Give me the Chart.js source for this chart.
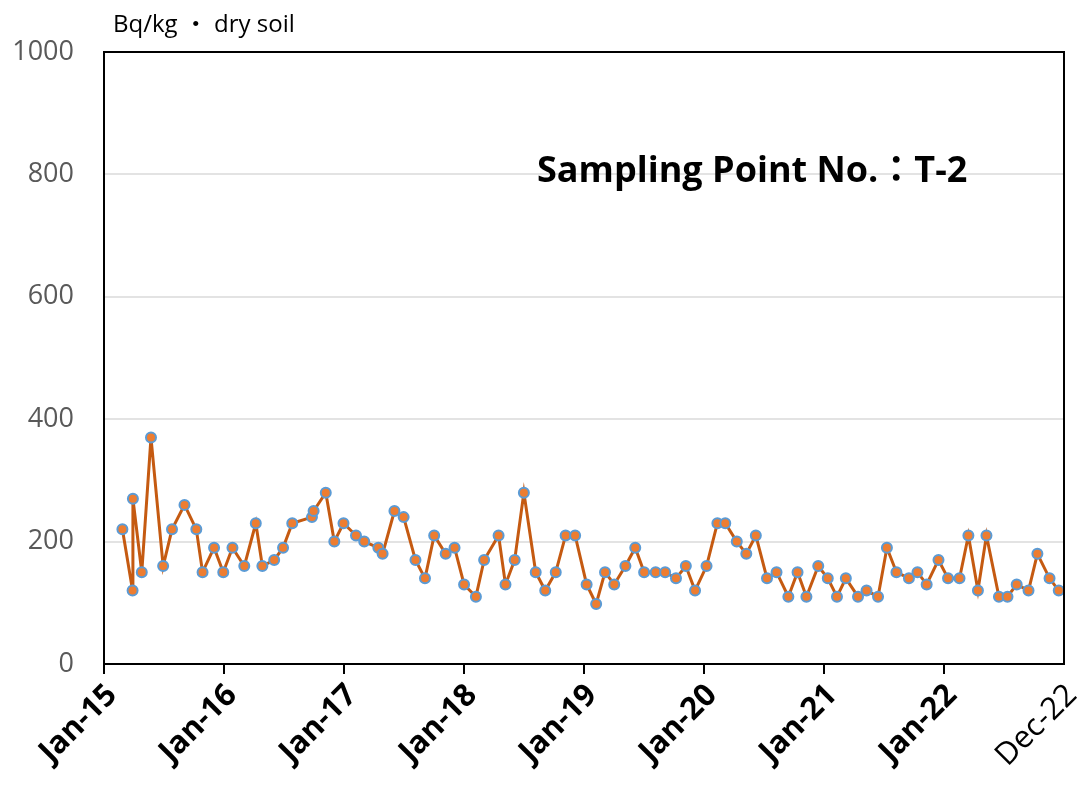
<!DOCTYPE html>
<html>
<head>
<meta charset="utf-8">
<script src="https://cdn.jsdelivr.net/npm/chart.js@4.4.1/dist/chart.umd.min.js"></script>
<style>
  html, body { margin: 0; padding: 0; background: #fff; }
  #wrap { width: 1081px; height: 785px; position: relative; }
</style>
</head>
<body>
<div id="wrap"><canvas id="chart"></canvas></div>
<script>
const sampleDates = [
  '2015-02-26', '2015-03-29', '2015-03-30', '2015-04-26', '2015-05-24', '2015-06-30', '2015-07-27', '2015-09-03',
  '2015-10-09', '2015-10-28', '2015-12-02', '2015-12-30', '2016-01-27', '2016-03-03', '2016-04-07', '2016-04-27',
  '2016-06-02', '2016-06-29', '2016-07-27', '2016-09-25', '2016-09-30', '2016-11-06', '2016-12-02', '2016-12-30',
  '2017-02-06', '2017-03-03', '2017-04-15', '2017-04-28', '2017-06-03', '2017-07-01', '2017-08-06', '2017-09-04',
  '2017-10-02', '2017-11-06', '2017-12-03', '2018-01-01', '2018-02-06', '2018-03-03', '2018-04-16', '2018-05-07',
  '2018-06-04', '2018-07-02', '2018-08-07', '2018-09-05', '2018-10-07', '2018-11-06', '2018-12-05', '2019-01-09',
  '2019-02-07', '2019-03-06', '2019-04-03', '2019-05-07', '2019-06-06', '2019-07-03', '2019-08-07', '2019-09-05',
  '2019-10-08', '2019-11-07', '2019-12-05', '2020-01-09', '2020-02-11', '2020-03-06', '2020-04-10', '2020-05-09',
  '2020-06-07', '2020-07-11', '2020-08-09', '2020-09-14', '2020-10-12', '2020-11-08', '2020-12-14', '2021-01-12',
  '2021-02-09', '2021-03-08', '2021-04-14', '2021-05-10', '2021-06-14', '2021-07-11', '2021-08-09', '2021-09-16',
  '2021-10-12', '2021-11-09', '2021-12-15', '2022-01-13', '2022-02-17', '2022-03-16', '2022-04-14', '2022-05-10',
  '2022-06-17', '2022-07-13', '2022-08-10', '2022-09-15', '2022-10-12', '2022-11-18', '2022-12-16'
];
const concentrations = [
  220, 120, 270, 150, 370, 160, 220, 260,
  220, 150, 190, 150, 190, 160, 230, 160,
  170, 190, 230, 240, 250, 280, 200, 230,
  210, 200, 190, 180, 250, 240, 170, 140,
  210, 180, 190, 130, 110, 170, 210, 130,
  170, 280, 150, 120, 150, 210, 210, 130,
  98, 150, 130, 160, 190, 150, 150, 150,
  140, 160, 120, 160, 230, 230, 200, 180,
  210, 140, 150, 110, 150, 110, 160, 140,
  110, 140, 110, 120, 110, 190, 150, 140,
  150, 130, 170, 140, 140, 210, 120, 210,
  110, 110, 130, 120, 180, 140, 120
];

// x axis ticks
const tickDates = ['2015-01-01', '2016-01-01', '2017-01-01', '2018-01-01', '2019-01-01',
  '2020-01-01', '2021-01-01', '2022-01-01', '2023-01-01'];
const tickLabels = ['Jan-15', 'Jan-16', 'Jan-17', 'Jan-18', 'Jan-19', 'Jan-20', 'Jan-21', 'Jan-22', 'Dec-22'];
const yTicks = [0, 200, 400, 600, 800, 1000];

const unitLabel = 'Bq/kg \u30FB dry soil';
const titleText = 'Sampling Point No.\uFF1AT-2';

const dayZero = Date.parse('2015-01-01');
function toDays(s) {
  return (Date.parse(s) - dayZero) / 86400000;
}
const tickDays = tickDates.map(toDays);

// Texts and outer frame
const framePlugin = {
  id: 'frame',
  afterDraw(chart) {
    const { ctx, chartArea } = chart;
    ctx.save();
    ctx.strokeStyle = '#000';
    ctx.lineWidth = 2;
    ctx.beginPath();
    ctx.moveTo(chartArea.left, chartArea.top);
    ctx.lineTo(chartArea.right, chartArea.top);
    ctx.lineTo(chartArea.right, chartArea.bottom);
    ctx.stroke();

    ctx.fillStyle = '#000';
    ctx.textBaseline = 'alphabetic';
    ctx.textAlign = 'left';
    ctx.font = '24px "Open Sans", "Noto Sans CJK JP", sans-serif';
    ctx.fillText(unitLabel, 113, 32);

    ctx.font = 'bold 36px "Open Sans", "Noto Sans CJK JP", sans-serif';
    ctx.fillText(titleText, 537, 182);
    ctx.restore();
  }
};

const ctx = document.getElementById('chart').getContext('2d');
new Chart(ctx, {
  type: 'line',
  data: {
    datasets: [{
      data: sampleDates.map((d, i) => ({ x: toDays(d), y: concentrations[i] })),
      borderColor: '#C55A11',
      borderWidth: 3,
      backgroundColor: '#ED7D31',
      pointBackgroundColor: '#ED7D31',
      pointBorderColor: '#5B9BD5',
      pointBorderWidth: 2,
      pointRadius: 5,
      tension: 0,
      fill: false
    }]
  },
  options: {
    responsive: true,
    maintainAspectRatio: false,
    animation: false,
    layout: { padding: { top: 52, right: 17, left: 0, bottom: 0 } },
    plugins: {
      legend: { display: false },
      tooltip: { enabled: false }
    },
    scales: {
      x: {
        type: 'linear',
        min: tickDays[0],
        max: tickDays[tickDays.length - 1],
        afterBuildTicks: (scale) => {
          scale.ticks = tickDays.map(v => ({ value: v }));
        },
        afterFit: (scale) => {
          scale.height = 121;
          scale.paddingLeft = 0;
          scale.paddingRight = 0;
        },
        border: { display: true, color: '#000', width: 2 },
        grid: {
          drawOnChartArea: false,
          drawTicks: true,
          tickLength: 10,
          lineWidth: 2,
          color: (c) => (c.index === tickDays.length - 1 ? 'rgba(0,0,0,0)' : '#000')
        },
        ticks: {
          autoSkip: false,
          maxRotation: 45,
          minRotation: 45,
          padding: 3,
          labelOffset: 8,
          color: '#000',
          font: (c) => ({
            family: '"Open Sans", sans-serif',
            size: 31,
            weight: c.index === tickDays.length - 1 ? 'normal' : 'bold'
          }),
          callback: (value, index) => tickLabels[index]
        }
      },
      y: {
        min: 0,
        max: 1000,
        afterBuildTicks: (scale) => {
          scale.ticks = yTicks.map(v => ({ value: v }));
        },
        afterFit: (scale) => {
          scale.width = 104;
        },
        border: { display: true, color: '#000', width: 2 },
        grid: {
          drawTicks: false,
          lineWidth: 2,
          color: (c) => (c.tick && (c.tick.value === 0 || c.tick.value === 1000) ? 'rgba(0,0,0,0)' : '#e3e3e3')
        },
        ticks: {
          padding: 30,
          color: '#595959',
          font: { family: '"Open Sans", sans-serif', size: 27 },
          callback: (value) => String(value)
        }
      }
    }
  },
  plugins: [framePlugin]
});
</script>
</body>
</html>
